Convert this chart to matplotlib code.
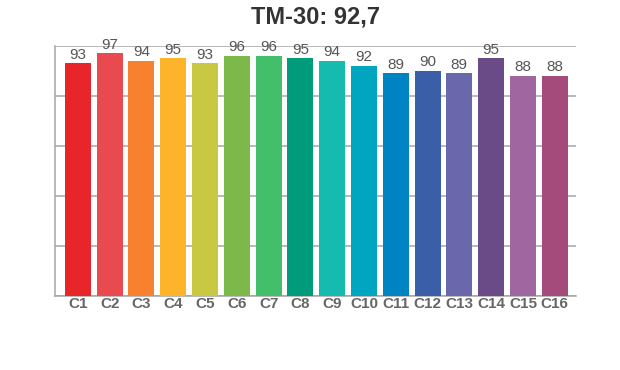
import numpy as np
import matplotlib.pyplot as plt

plt.rcParams['font.family'] = ['Liberation Sans', 'DejaVu Sans']

# chart data
labels = ['C1', 'C2', 'C3', 'C4', 'C5', 'C6', 'C7', 'C8',
          'C9', 'C10', 'C11', 'C12', 'C13', 'C14', 'C15', 'C16']
values = [93, 97, 94, 95, 93, 96, 96, 95, 94, 92, 89, 90, 89, 95, 88, 88]
colors = ['#e8262a', '#e84a4f', '#f7812f', '#fdb32a', '#c9c843', '#7db84a',
          '#43bf6b', '#009b7a', '#16bbb0', '#00a5c0', '#0083c2', '#3a5fa8',
          '#6b67ac', '#6a4a87', '#a066a0', '#a54b7b']
title = 'TM-30: 92,7'

fig = plt.figure(figsize=(6.2, 3.7), dpi=100)
ax = fig.add_axes([0.0887, 0.2, 0.8403, 0.6757])

x = np.arange(len(values))
bars = ax.bar(x, values, width=0.82, color=colors, zorder=3)

for xi, v in zip(x, values):
    ax.text(xi, v + 0.6, str(v), ha='center', va='bottom',
            fontsize=11, color='#555555', zorder=4)

ax.set_ylim(0, 100)
ax.set_xlim(-0.72, 15.67)
ax.set_yticks(np.arange(0, 101, 20))
ax.set_yticklabels([])
ax.tick_params(axis='y', length=0)
ax.tick_params(axis='x', length=0, pad=1)
ax.set_xticks(x)
ax.set_xticklabels(labels, fontsize=11, fontweight='bold', color='#666666')
ax.grid(axis='y', color='#a6a6a6', linewidth=1.1, zorder=0)

for s in ['top', 'right']:
    ax.spines[s].set_visible(False)
for s in ['left', 'bottom']:
    ax.spines[s].set_color('#a6a6a6')
    ax.spines[s].set_linewidth(1.1)

fig.text(0.509, 0.955, title, ha='center', va='center',
         fontsize=17, fontweight='bold', color='#333333')

fig.savefig('out.png', dpi=100)
